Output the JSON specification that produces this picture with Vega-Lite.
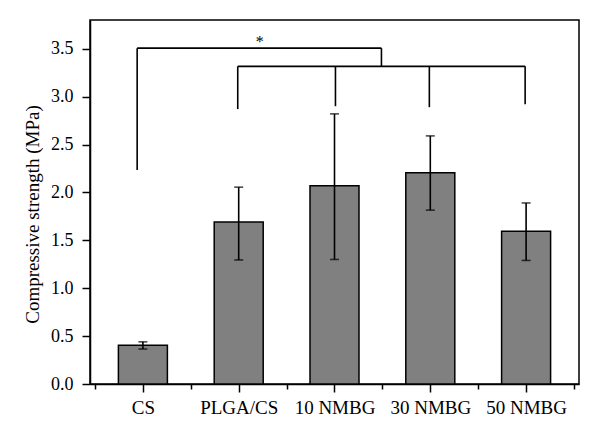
{
  "$schema": "https://vega.github.io/schema/vega-lite/v6.json",
  "autosize": "none",
  "width": 489,
  "height": 364,
  "padding": {"left": 90, "top": 20, "right": 21, "bottom": 58},
  "background": "white",
  "config": {
    "view": {"stroke": "black", "strokeWidth": 1.5},
    "font": "Liberation Serif",
    "axis": {
      "grid": false,
      "domainColor": "black",
      "domainWidth": 1.5,
      "tickColor": "black",
      "tickWidth": 1.5,
      "labelColor": "black",
      "titleColor": "black",
      "labelFont": "Liberation Serif",
      "titleFont": "Liberation Serif",
      "titleFontWeight": "normal"
    }
  },
  "datasets": {
    "groups": [
      {"idx": 1, "group": "CS", "mean": 0.405, "lo": 0.365, "hi": 0.44},
      {"idx": 2, "group": "PLGA/CS", "mean": 1.69, "lo": 1.295, "hi": 2.055},
      {"idx": 3, "group": "10 NMBG", "mean": 2.07, "lo": 1.30, "hi": 2.82},
      {"idx": 4, "group": "30 NMBG", "mean": 2.205, "lo": 1.815, "hi": 2.59},
      {"idx": 5, "group": "50 NMBG", "mean": 1.595, "lo": 1.29, "hi": 1.89}
    ],
    "brackets": [
      {"x": 0.94, "x2": 3.49, "y": 3.506, "y2": 3.506},
      {"x": 0.94, "x2": 0.94, "y": 3.506, "y2": 2.235},
      {"x": 3.49, "x2": 3.49, "y": 3.506, "y2": 3.316},
      {"x": 1.99, "x2": 4.99, "y": 3.316, "y2": 3.316},
      {"x": 1.99, "x2": 1.99, "y": 3.316, "y2": 2.87},
      {"x": 3.01, "x2": 3.01, "y": 3.316, "y2": 2.90},
      {"x": 3.99, "x2": 3.99, "y": 3.316, "y2": 2.89},
      {"x": 4.99, "x2": 4.99, "y": 3.316, "y2": 2.92}
    ],
    "stars": [
      {"x": 2.22, "y": 3.52, "label": "*"}
    ]
  },
  "layer": [
    {
      "data": {"name": "groups"},
      "mark": {"type": "bar", "width": 49, "fill": "#808080", "stroke": "black", "strokeWidth": 1.5},
      "encoding": {
        "x": {
          "field": "idx", "type": "quantitative",
          "scale": {"domain": [0.5, 5.5], "nice": false, "zero": false},
          "axis": {
            "title": null,
            "values": [0.5, 1, 1.5, 2, 2.5, 3, 3.5, 4, 4.5, 5, 5.5],
            "labelExpr": "datum.value % 1 == 0 ? ['CS', 'PLGA/CS', '10 NMBG', '30 NMBG', '50 NMBG'][datum.value - 1] : ''",
            "labelFontSize": 19,
            "labelPadding": 6,
            "labelFlush": false,
            "labelOverlap": false,
            "tickSize": {"condition": {"test": "datum.value % 1 == 0", "value": 8}, "value": 5}
          }
        },
        "y": {
          "field": "mean", "type": "quantitative",
          "scale": {"domain": [0, 3.8], "nice": false},
          "axis": {
            "title": "Compressive strength (MPa)",
            "titleFontSize": 19,
            "values": [0, 0.25, 0.5, 0.75, 1, 1.25, 1.5, 1.75, 2, 2.25, 2.5, 2.75, 3, 3.25, 3.5, 3.75],
            "labelExpr": "datum.value % 0.5 == 0 ? format(datum.value, '.1f') : ''",
            "labelFontSize": 18,
            "labelPadding": 9,
            "labelFlush": false,
            "labelOverlap": false,
            "tickSize": {"condition": {"test": "datum.value % 0.5 == 0", "value": 8}, "value": 5},
            "titleY": 194,
            "titleX": -48
          }
        }
      }
    },
    {
      "data": {"name": "groups"},
      "mark": {"type": "rule", "color": "black", "strokeWidth": 1.6},
      "encoding": {
        "x": {"field": "idx", "type": "quantitative"},
        "y": {"field": "lo", "type": "quantitative"},
        "y2": {"field": "hi"}
      }
    },
    {
      "data": {"name": "groups"},
      "mark": {"type": "tick", "orient": "horizontal", "color": "black", "size": 9, "thickness": 1.6},
      "encoding": {
        "x": {"field": "idx", "type": "quantitative"},
        "y": {"field": "hi", "type": "quantitative"}
      }
    },
    {
      "data": {"name": "groups"},
      "mark": {"type": "tick", "orient": "horizontal", "color": "black", "size": 9, "thickness": 1.6},
      "encoding": {
        "x": {"field": "idx", "type": "quantitative"},
        "y": {"field": "lo", "type": "quantitative"}
      }
    },
    {
      "data": {"name": "brackets"},
      "mark": {"type": "rule", "color": "black", "strokeWidth": 1.6},
      "encoding": {
        "x": {"field": "x", "type": "quantitative"},
        "x2": {"field": "x2"},
        "y": {"field": "y", "type": "quantitative"},
        "y2": {"field": "y2"}
      }
    },
    {
      "data": {"name": "stars"},
      "mark": {"type": "text", "fontSize": 16, "baseline": "alphabetic", "align": "center", "color": "black", "font": "Liberation Serif"},
      "encoding": {
        "x": {"field": "x", "type": "quantitative"},
        "y": {"field": "y", "type": "quantitative"},
        "text": {"field": "label"}
      }
    }
  ]
}
